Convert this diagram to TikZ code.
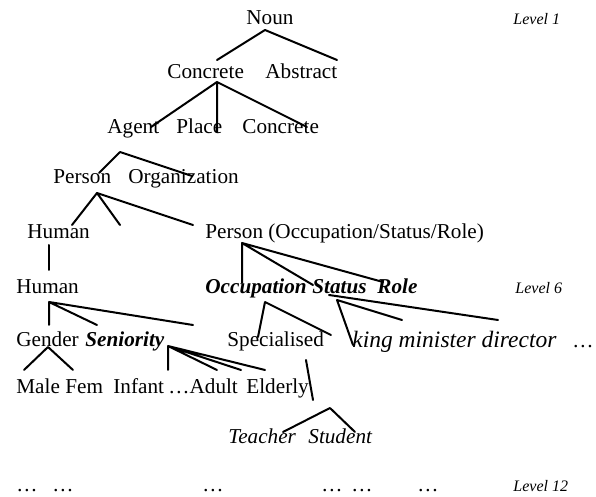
\documentclass[tikz,border=0pt]{standalone}
\usepackage{fontspec}
\setmainfont{Liberation Serif}

\begin{document}
\begin{tikzpicture}[
    x=0.5pt, y=-0.5pt,
    word/.style={anchor=base west, inner sep=0pt,
                 font=\fontsize{10.6}{12}\selectfont},
    itword/.style={word, font=\fontsize{10.6}{12}\selectfont\itshape},
    bfword/.style={word, font=\fontsize{10.6}{12}\selectfont\bfseries\itshape},
    bigword/.style={word, font=\fontsize{11.75}{13}\selectfont\itshape},
    lvl/.style={word, font=\fontsize{8}{9}\selectfont\itshape},
    twig/.style={line width=1pt, line cap=round},
]
\useasboundingbox (0,0) rectangle (596,497);

% --- Words, row by row ---
\node[word] (noun)       at (246, 25) {Noun};
\node[word] (concreteA)  at (167, 79) {Concrete};
\node[word] (abstract)   at (265, 79) {Abstract};
\node[word] (agent)      at (107,134) {Agent};
\node[word] (place)      at (176,134) {Place};
\node[word] (concreteB)  at (242,134) {Concrete};
\node[word] (person)     at (53, 184) {Person};
\node[word] (organization) at (128,184) {Organization};
\node[word] (humanA)     at (27, 239) {Human};
\node[word] (personocc)  at (205,239) {Person (Occupation/Status/Role)};
\node[word] (humanB)     at (16, 294) {Human};
\node[bfword] (occupation) at (205,294) {Occupation};
\node[bfword] (status)   at (312,294) {Status};
\node[bfword] (role)     at (377,294) {Role};
\node[word] (gender)     at (16, 347) {Gender};
\node[bfword] (seniority) at (85,347) {Seniority};
\node[word] (specialised) at (227,347) {Specialised};
\node[bigword] (kingmd)  at (352,348) {king minister director};
\node[word] (moredots)   at (572,348) {…};
\node[word] (male)       at (16, 394) {Male};
\node[word] (fem)        at (65, 394) {Fem};
\node[word] (infant)     at (113,394) {Infant};
\node[word] (adult)      at (168,394) {…Adult};
\node[word] (elderly)    at (246,394) {Elderly};
\node[itword] (teacher)  at (228,444) {Teacher};
\node[itword] (student)  at (308,444) {Student};

% bottom row
\node[word] (dotsA) at (16, 492) {…};
\node[word] (dotsB) at (52, 492) {…};
\node[word] (dotsC) at (202,492) {…};
\node[word] (dotsD) at (321,492) {…};
\node[word] (dotsE) at (351,492) {…};
\node[word] (dotsF) at (417,492) {…};

% level marks
\node[lvl] (lvlone)    at (513, 25) {Level 1};
\node[lvl] (lvlsix)    at (515,294) {Level 6};
\node[lvl] (lvltwelve) at (513,492) {Level 12};

% --- Branch points and ends ---
\coordinate (nounb)   at (265, 30);
\coordinate (concb)   at (217, 82);
\coordinate (agentb)  at (120,152);
\coordinate (persb)   at (97, 193);
\coordinate (occb)    at (242,243);
\coordinate (humb)    at (49, 302);
\coordinate (occpb)   at (265,302);
\coordinate (statb)   at (329,295);
\coordinate (statc)   at (337,300);
\coordinate (gendb)   at (48, 347);
\coordinate (senb)    at (168,346);
\coordinate (specb)   at (306,360);
\coordinate (teachb)  at (330,408);

% --- Branches ---
\draw[twig] (nounb) -- (217,60) (nounb) -- (337,60);
\draw[twig] (concb) -- (151,127) (concb) -- (217,132) (concb) -- (307,127);
\draw[twig] (agentb) -- (99,173) (agentb) -- (192,176);
\draw[twig] (persb) -- (72,225) (persb) -- (120,225) (persb) -- (193,225);
\draw[twig] (49,245) -- (49,270);
\draw[twig] (occb) -- (242,283) (occb) -- (313,285) (occb) -- (383,282);
\draw[twig] (humb) -- (49,325) (humb) -- (97,325) (humb) -- (193,325);
\draw[twig] (occpb) -- (258,337) (occpb) -- (331,335);
\draw[twig] (statb) -- (498,320);
\draw[twig] (statc) -- (402,320) (statc) -- (353,345);
\draw[twig] (gendb) -- (24,370) (gendb) -- (73,370);
\draw[twig] (senb) -- (168,370) (senb) -- (217,370)
    (senb) -- (241,370) (senb) -- (265,370);
\draw[twig] (specb) -- (313,400);
\draw[twig] (teachb) -- (283,432) (teachb) -- (355,432);

\end{tikzpicture}
\end{document}
